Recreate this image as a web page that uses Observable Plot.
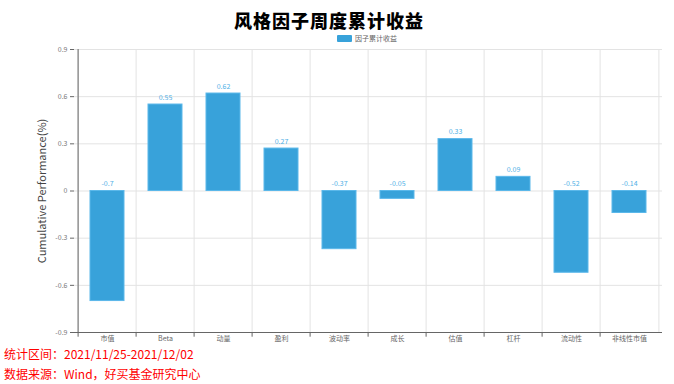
<!DOCTYPE html>
<html><head><meta charset="utf-8">
<script src="https://cdn.jsdelivr.net/npm/d3@7"></script>
<script src="https://cdn.jsdelivr.net/npm/@observablehq/plot@0.6"></script>
<style>
body{margin:0;background:#fff;font-family:"Noto Sans CJK SC","Noto Sans",sans-serif;}
#wrap{position:relative;width:674px;height:384px;overflow:hidden;}
#title{position:absolute;left:0;width:658px;top:9px;text-align:center;font-size:18px;font-weight:900;color:#000;letter-spacing:1px;line-height:22px;}
#legend{position:absolute;left:337px;top:34px;font-size:7px;color:#666;line-height:9px;display:flex;align-items:center;}
#legend span.sw{display:inline-block;width:15px;height:7px;background:#38a2da;border-radius:1px;margin-right:3px;}
#chart{position:absolute;left:0;top:0;}
.foot{position:absolute;left:4px;font-size:12px;color:#ff0000;line-height:14px;}
</style></head>
<body><div id="wrap">
<div id="chart"></div>
<div id="title">风格因子周度累计收益</div>
<div id="legend"><span class="sw"></span>因子累计收益</div>
<div class="foot" style="top:347px">统计区间：2021/11/25-2021/12/02</div>
<div class="foot" style="top:367px">数据来源：Wind，好买基金研究中心</div>
</div>
<script>
const categories = ["市值","Beta","动量","盈利","波动率","成长","估值","杠杆","流动性","非线性市值"];
const values = [-0.7,0.55,0.62,0.27,-0.37,-0.05,0.33,0.09,-0.52,-0.14];
const yTicks = [-0.9,-0.6,-0.3,0,0.3,0.6,0.9];
const data = categories.map((c,i)=>({cat:c, v:values[i]}));

const W = 674, H = 346, mL = 74, mR = 12;
const step = (W - mL - mR) / categories.length;
const inset = 12;

const chart = Plot.plot({
  width: W, height: H,
  marginTop: 49, marginBottom: 14, marginLeft: mL, marginRight: mR,
  style: {fontFamily: '"Noto Sans CJK SC","Noto Sans",sans-serif', background: "transparent", overflow: "visible"},
  x: {type: "band", domain: categories, padding: 0, axis: null},
  y: {type: "linear", domain: [-0.9, 0.9], axis: null},
  marks: [
    Plot.ruleY(yTicks, {y: d=>d, stroke: "#e3e3e3"}),
    Plot.ruleX(categories, {x: d=>d, dx: -step/2, stroke: "#e3e3e3"}),
    Plot.ruleX([categories[categories.length-1]], {x: d=>d, dx: step/2, stroke: "#e3e3e3"}),
    Plot.barY(data, {x: "cat", y: "v", fill: "#38a2da", stroke: "#5bb8ea", strokeWidth: 1, insetLeft: inset, insetRight: inset}),
    Plot.text(data, {x: "cat", y: d=>Math.max(d.v,0), text: d=>String(d.v), dy: -7, fill: "#4fb0e6", fontSize: 7}),
    Plot.ruleY([-0.9], {y: d=>d, stroke: "#666"}),
    Plot.ruleX([categories[0]], {x: d=>d, dx: -step/2, stroke: "#666"}),
    Plot.ruleX(categories, {x: d=>d, dx: -step/2, y1: () => -0.9, y2: () => -0.93, stroke: "#666"}),
    Plot.axisY(yTicks, {tickSize: 4, tickPadding: 3, stroke: "#666", fill: "#777", fontSize: 7,
      tickFormat: d => d===0 ? "0" : String(d),
      label: "Cumulative Performance(%)", labelAnchor: "center", labelArrow: "none", labelOffset: 36}),
    Plot.axisX({tickSize: 0, tickPadding: 4, fill: "#666", fontSize: 7, label: null})
  ]
});
chart.querySelectorAll("text").forEach(t=>{ if(t.textContent==="Cumulative Performance(%)"){t.setAttribute("font-size","11");t.style.fontSize="11px";t.setAttribute("fill","#444");} });
document.getElementById("chart").appendChild(chart);
</script>
</body></html>
